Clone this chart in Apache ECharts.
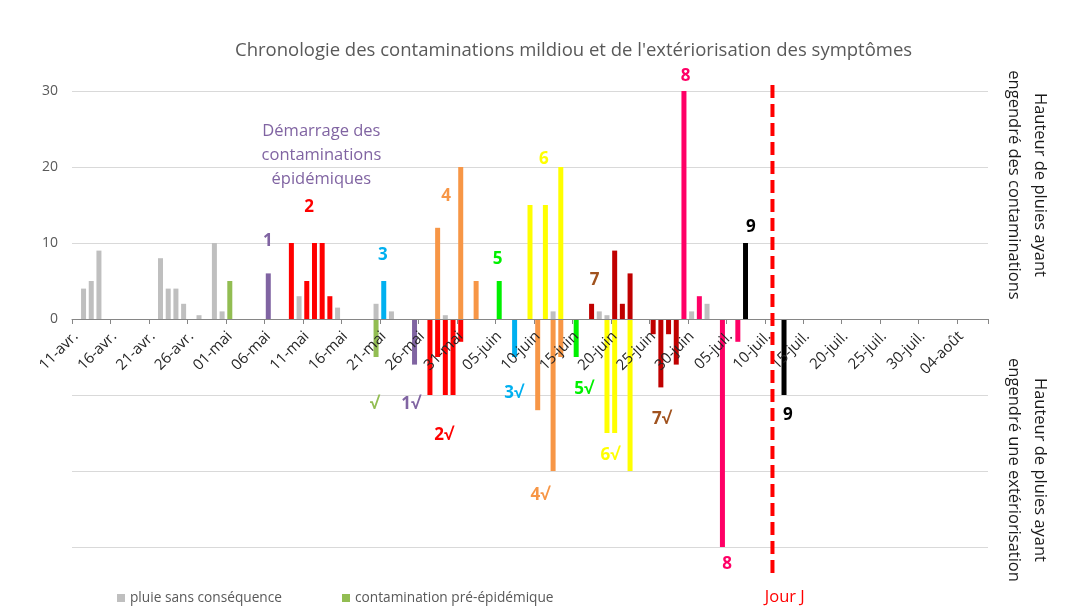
<!DOCTYPE html>
<html>
<head>
<meta charset="utf-8">
<script src="https://cdn.jsdelivr.net/npm/echarts@6/dist/echarts.min.js"></script>
<style>html,body{margin:0;padding:0;background:#fff;}#chart{width:1065px;height:614px;}</style>
</head>
<body>
<div id="chart"></div>
<script>
// ---- Categories: one per day, 11 April -> 7 August ----
const monthNames = ['avr.', 'mai', 'juin', 'juil.', 'août'];
const monthLengths = [30, 31, 30, 31, 31];
const firstDay = 11;
const dayCount = 119;
const categories = [];
(function () {
  let m = 0, d = firstDay;
  for (let i = 0; i < dayCount; i++) {
    categories.push((d < 10 ? '0' + d : '' + d) + '-' + monthNames[m]);
    d++;
    if (d > monthLengths[m]) { d = 1; m++; }
  }
})();

// ---- Series values (mm of rain), [date, value]; negative = exteriorisation ----
const pluieSansConsequence = [
  ['12-avr.', 4], ['13-avr.', 5], ['14-avr.', 9], ['22-avr.', 8], ['23-avr.', 4], ['24-avr.', 4],
  ['25-avr.', 2], ['27-avr.', 0.5], ['29-avr.', 10], ['30-avr.', 1], ['10-mai', 3], ['15-mai', 1.5],
  ['20-mai', 2], ['22-mai', 1], ['29-mai', 0.5], ['12-juin', 1], ['18-juin', 1], ['19-juin', 0.5],
  ['30-juin', 1], ['02-juil.', 2]
];
const contaminationPreEpidemique = [['01-mai', 5], ['20-mai', -5]];
const contamination1 = [['06-mai', 6], ['25-mai', -6]];
const contamination2 = [['09-mai', 10], ['11-mai', 5], ['12-mai', 10], ['13-mai', 10], ['14-mai', 3],
  ['27-mai', -10], ['28-mai', -5], ['29-mai', -10], ['30-mai', -10], ['31-mai', -3]];
const contamination3 = [['21-mai', 5], ['07-juin', -5]];
const contamination4 = [['28-mai', 12], ['31-mai', 20], ['02-juin', 5], ['10-juin', -12], ['12-juin', -20], ['13-juin', -5]];
const contamination5 = [['05-juin', 5], ['15-juin', -5]];
const contamination6 = [['09-juin', 15], ['11-juin', 15], ['13-juin', 20], ['19-juin', -15], ['20-juin', -15], ['22-juin', -20]];
const contamination7 = [['17-juin', 2], ['20-juin', 9], ['21-juin', 2], ['22-juin', 6],
  ['25-juin', -2], ['26-juin', -9], ['27-juin', -2], ['28-juin', -6]];
const contamination8 = [['29-juin', 30], ['01-juil.', 3], ['04-juil.', -30], ['06-juil.', -3]];
const contamination9 = [['07-juil.', 10], ['12-juil.', -10]];

// Jour J sits between 10-juil. and 11-juil.
const jourJPosition = 90.5;

// ---- Y axis ----
const yMin = -30, yMax = 30, yStep = 10;

// ---- Text annotations (placed in data units: day index, mm) ----
const annotations = [
  { text: 'Démarrage des\ncontaminations\népidémiques', x: 31.9, y: 21.6, key: 'c1', bold: false },
  { text: '1', x: 24.95, y: 10.3, key: 'c1' },
  { text: '2', x: 30.3, y: 14.7, key: 'c2' },
  { text: '3', x: 39.9, y: 8.4, key: 'c3' },
  { text: '4', x: 48.1, y: 16.2, key: 'c4' },
  { text: '5', x: 54.8, y: 7.9, key: 'c5' },
  { text: '6', x: 60.8, y: 21.0, key: 'c6' },
  { text: '7', x: 67.4, y: 5.1, key: 'c7t' },
  { text: '8', x: 79.2, y: 32.0, key: 'c8' },
  { text: '9', x: 87.7, y: 12.1, key: 'c9' },
  { text: '√', x: 38.8, y: -11.2, key: 'pre' },
  { text: '1√', x: 43.5, y: -11.2, key: 'c1' },
  { text: '2√', x: 47.8, y: -15.3, key: 'c2' },
  { text: '3√', x: 56.9, y: -9.7, key: 'c3' },
  { text: '4√', x: 60.3, y: -23.2, key: 'c4' },
  { text: '5√', x: 66.0, y: -9.2, key: 'c5' },
  { text: '6√', x: 69.4, y: -17.9, key: 'c6' },
  { text: '7√', x: 76.1, y: -13.2, key: 'c7t' },
  { text: '8', x: 84.6, y: -32.2, key: 'c8' },
  { text: '9', x: 92.5, y: -12.6, key: 'c9' },
  { text: 'Jour J', x: 92.1, y: -36.6, key: 'jour', bold: false }
];

// ---- Styles / layout ----
const colors = {
  gray: '#bfbfbf', pre: '#92bd52', c1: '#8064a2', c2: '#ff0000', c3: '#00b0f0', c4: '#f79646',
  c5: '#00f000', c6: '#ffff00', c7: '#c00000', c7t: '#a0521e', c8: '#ff0066', c9: '#000000', jour: '#ff0000'
};
const FONT = '"Open Sans", "Liberation Sans", sans-serif';
const CHART_H = 614, GRID_TOP = 91, GRID_BOTTOM = 67;
const gridHeight = CHART_H - GRID_TOP - GRID_BOTTOM;
// move the category axis from the grid bottom to the y = 0 line
const zeroOffset = -gridHeight * (0 - yMin) / (yMax - yMin);

function toFull(pairs) {
  const arr = categories.map(() => null);
  pairs.forEach(([d, v]) => { arr[categories.indexOf(d)] = v; });
  return arr;
}

const barDefs = [
  ['pluie sans conséquence', pluieSansConsequence, colors.gray],
  ['contamination pré-épidémique', contaminationPreEpidemique, colors.pre],
  ['contamination 1', contamination1, colors.c1],
  ['contamination 2', contamination2, colors.c2],
  ['contamination 3', contamination3, colors.c3],
  ['contamination 4', contamination4, colors.c4],
  ['contamination 5', contamination5, colors.c5],
  ['contamination 6', contamination6, colors.c6],
  ['contamination 7', contamination7, colors.c7],
  ['contamination 8', contamination8, colors.c8],
  ['contamination 9', contamination9, colors.c9]
];

const series = barDefs.map(([name, pairs, color]) => ({
  name, type: 'bar', stack: 'pluie', stackStrategy: 'samesign',
  barWidth: '65%', data: toFull(pairs), itemStyle: { color }, silent: true
}));

series.push({
  name: 'annotations', type: 'custom', coordinateSystem: 'cartesian2d', xAxisIndex: 1, yAxisIndex: 0,
  clip: false, silent: true, z: 10,
  data: annotations.map(a => [a.x, a.y]),
  renderItem: function (params, api) {
    const a = annotations[params.dataIndex];
    const p = api.coord([api.value(0), api.value(1)]);
    const bold = a.bold !== false;
    return {
      type: 'text', x: p[0], y: p[1],
      style: {
        text: a.text, fill: colors[a.key], align: 'center', verticalAlign: 'middle',
        font: (bold ? 'bold 17px ' : '16.5px ') + FONT, lineHeight: 24
      }
    };
  }
});

series.push({
  name: 'Jour J', type: 'custom', coordinateSystem: 'cartesian2d', xAxisIndex: 1, yAxisIndex: 0,
  clip: false, silent: true, z: 9,
  data: [[jourJPosition, 30.8, -33.9]],
  renderItem: function (params, api) {
    const p1 = api.coord([api.value(0), api.value(1)]);
    const p2 = api.coord([api.value(0), api.value(2)]);
    return {
      type: 'line',
      shape: { x1: p1[0], y1: p1[1], x2: p2[0], y2: p2[1] },
      style: { stroke: colors.jour, lineWidth: 4, lineDash: [13, 6] }
    };
  }
});

const chart = echarts.init(document.getElementById('chart'), null, { renderer: 'canvas' });
chart.setOption({
  animation: false,
  backgroundColor: '#ffffff',
  title: {
    text: "Chronologie des contaminations mildiou et de l'extériorisation des symptômes",
    left: 230, top: 36,
    textStyle: { fontFamily: FONT, fontSize: 18.5, fontWeight: 'normal', color: '#595959' }
  },
  legend: {
    data: ['pluie sans conséquence', 'contamination pré-épidémique'],
    left: 112, top: 586, itemWidth: 8, itemHeight: 8, itemGap: 60, icon: 'rect',
    textStyle: { fontFamily: FONT, fontSize: 13.7, color: '#595959' }
  },
  grid: { left: 72, right: 77, top: GRID_TOP, bottom: GRID_BOTTOM, containLabel: false },
  xAxis: [{
    type: 'category', data: categories, boundaryGap: true, z: 3,
    position: 'bottom', offset: zeroOffset,
    axisLine: { onZero: false, lineStyle: { color: '#868686', width: 1 } },
    axisTick: { show: true, interval: 4, length: 5, lineStyle: { color: '#868686' } },
    axisLabel: { interval: 4, rotate: 45, margin: 15, color: '#262626', fontFamily: FONT, fontSize: 15 },
    splitLine: { show: false }
  }, {
    type: 'value', min: -0.5, max: dayCount - 0.5, show: false
  }],
  yAxis: {
    type: 'value', min: yMin, max: yMax, interval: yStep,
    axisLine: { show: false }, axisTick: { show: false },
    axisLabel: {
      margin: 14, color: '#595959', fontFamily: FONT, fontSize: 14,
      formatter: v => (v >= 0 ? String(v) : '')
    },
    splitLine: { lineStyle: { color: '#d9d9d9', width: 1 } }
  },
  graphic: [
    {
      type: 'text', x: 1027, y: 185, rotation: -Math.PI / 2,
      style: {
        text: 'Hauteur de pluies ayant\nengendré des contaminations', align: 'center', verticalAlign: 'middle',
        font: '16.5px ' + FONT, lineHeight: 26, fill: '#1a1a1a'
      }
    },
    {
      type: 'text', x: 1027, y: 470, rotation: -Math.PI / 2,
      style: {
        text: 'Hauteur de pluies ayant\nengendré une extériorisation', align: 'center', verticalAlign: 'middle',
        font: '16.5px ' + FONT, lineHeight: 26, fill: '#1a1a1a'
      }
    }
  ],
  series
});
</script>
</body>
</html>
